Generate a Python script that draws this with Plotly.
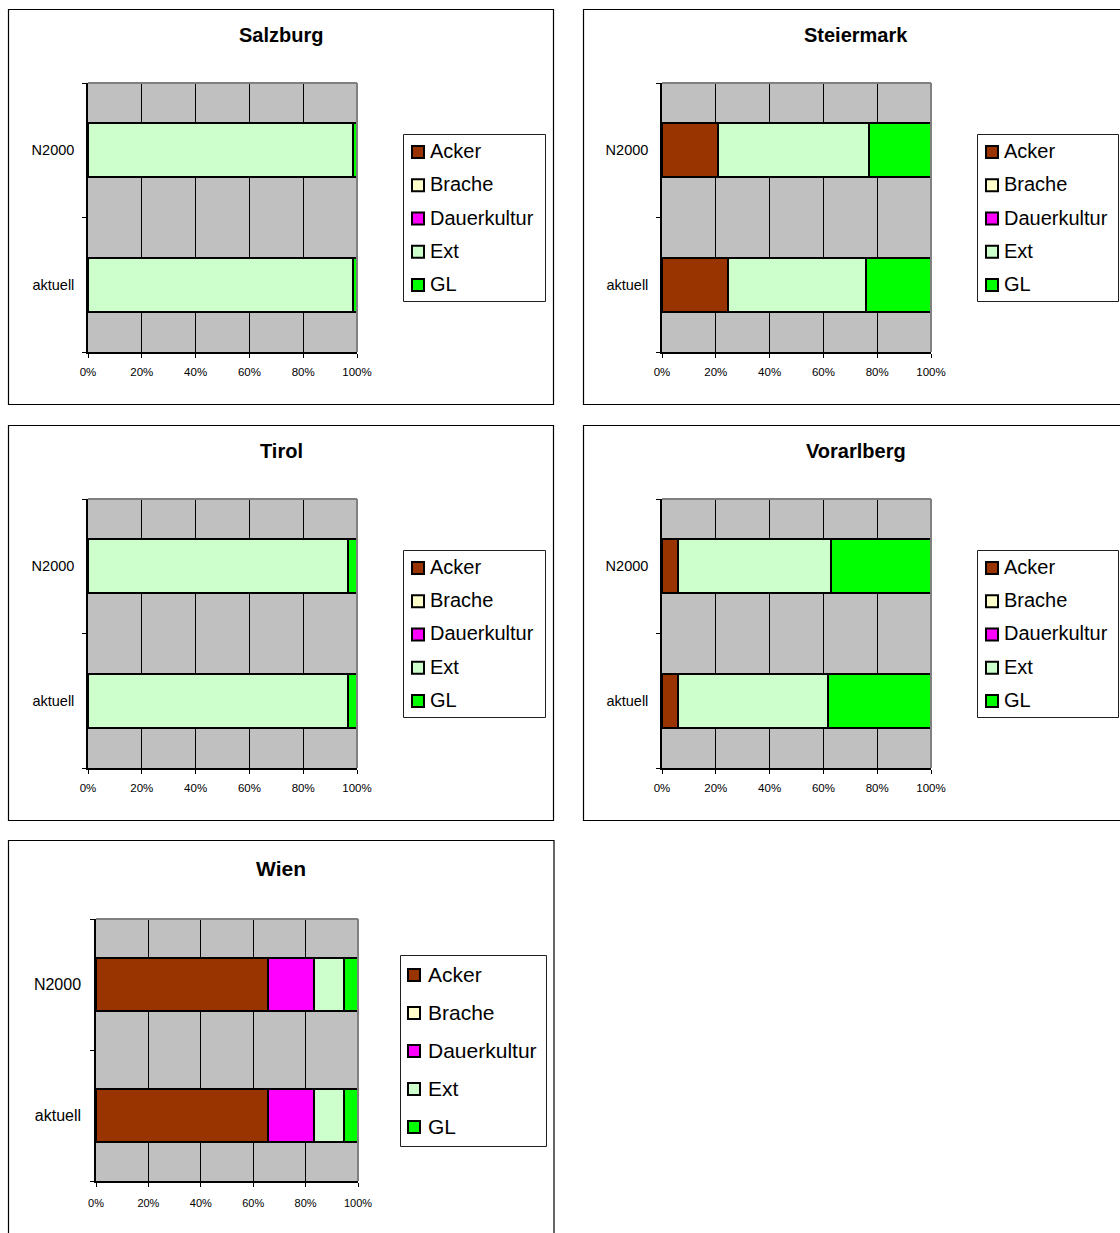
import plotly.graph_objects as go

W, H = 1120, 1233
FONT = "Arial, 'Liberation Sans', sans-serif"

# ---- data -----------------------------------------------------------------
categories = ["aktuell", "N2000"]
land_use = ["Acker", "Brache", "Dauerkultur", "Ext", "GL"]
land_use_colors = ["#993300", "#FFFFCC", "#FF00FF", "#CCFFCC", "#00FF00"]
x_ticks = [0, 20, 40, 60, 80, 100]

regions = ["Salzburg", "Steiermark", "Tirol", "Vorarlberg", "Wien"]

# share of each land-use class in percent (Acker, Brache, Dauerkultur, Ext, GL)
salzburg_aktuell = [0, 0, 0, 98.6, 1.4]
salzburg_n2000 = [0, 0, 0, 98.6, 1.4]
steiermark_aktuell = [24.7, 0, 0, 51.0, 24.3]
steiermark_n2000 = [20.7, 0, 0, 56.4, 22.9]
tirol_aktuell = [0, 0, 0, 96.8, 3.2]
tirol_n2000 = [0, 0, 0, 96.8, 3.2]
vorarlberg_aktuell = [6.1, 0, 0, 55.7, 38.2]
vorarlberg_n2000 = [6.1, 0, 0, 56.6, 37.3]
wien_aktuell = [65.5, 0, 17.7, 11.5, 5.3]
wien_n2000 = [65.5, 0, 17.7, 11.5, 5.3]

shares = {
    "Salzburg": (salzburg_aktuell, salzburg_n2000),
    "Steiermark": (steiermark_aktuell, steiermark_n2000),
    "Tirol": (tirol_aktuell, tirol_n2000),
    "Vorarlberg": (vorarlberg_aktuell, vorarlberg_n2000),
    "Wien": (wien_aktuell, wien_n2000),
}

# ---- panel geometry (pixels) ------------------------------------------------
panels = {
    "Salzburg": dict(frame=(8.5, 9.5, 553.5, 404.5), plot=(88, 83, 357, 352),
                     title=(281, 35, 20), legend=(403.5, 134.5, 545.5, 301.5),
                     leg_y0=151, leg_step=33.25, leg_sw=418, leg_tx=428, leg_font=20,
                     ytick=14.5, xtick=11.5, ystand=9, xstand=4),
    "Steiermark": dict(frame=(583.5, 9.5, 1135, 404.5), plot=(662, 83, 931, 352),
                       title=(856, 35, 20), legend=(977.5, 134.5, 1118.5, 301.5),
                       leg_y0=151, leg_step=33.25, leg_sw=992, leg_tx=1002, leg_font=20,
                       ytick=14.5, xtick=11.5, ystand=9, xstand=4),
    "Tirol": dict(frame=(8.5, 425.5, 553.5, 820.5), plot=(88, 499, 357, 768),
                  title=(281, 451, 20), legend=(403.5, 550.5, 545.5, 717.5),
                  leg_y0=567, leg_step=33.25, leg_sw=418, leg_tx=428, leg_font=20,
                  ytick=14.5, xtick=11.5, ystand=9, xstand=4),
    "Vorarlberg": dict(frame=(583.5, 425.5, 1135, 820.5), plot=(662, 499, 931, 768),
                       title=(856, 451, 20), legend=(977.5, 550.5, 1118.5, 717.5),
                       leg_y0=567, leg_step=33.25, leg_sw=992, leg_tx=1002, leg_font=20,
                       ytick=14.5, xtick=11.5, ystand=9, xstand=4),
    "Wien": dict(frame=(8.5, 840.5, 554, 1250), plot=(96, 919, 358, 1181),
                 title=(281, 868, 21), legend=(400.5, 955.5, 546.5, 1146.5),
                 leg_y0=974, leg_step=38, leg_sw=414, leg_tx=426, leg_font=21,
                 ytick=16, xtick=11, ystand=10, xstand=7),
}


def px(x):
    return x / W


def py(y):
    return 1 - y / H


fig = go.Figure()
shapes = []
annotations = []
layout_axes = {}

for i, region in enumerate(regions):
    p = panels[region]
    ax = "" if i == 0 else str(i + 1)
    aktuell, n2000 = shares[region]

    # stacked horizontal bars, one trace per land-use class
    for k, lu in enumerate(land_use):
        fig.add_trace(go.Bar(
            y=categories,
            x=[aktuell[k], n2000[k]],
            orientation="h",
            name=lu,
            marker=dict(color=land_use_colors[k], line=dict(color="black", width=2)),
            width=0.4,
            xaxis="x" + ax,
            yaxis="y" + ax,
            showlegend=False,
            hovertemplate=region + " %{y}<br>" + lu + ": %{x:.1f}%<extra></extra>",
        ))

    x0, y0, x1, y1 = p["plot"]
    layout_axes["xaxis" + ax] = dict(
        domain=[px(x0), px(x1)], anchor="y" + ax, range=[0, 100],
        tickvals=x_ticks, ticktext=[f"{t}%" for t in x_ticks],
        showgrid=True, gridcolor="black", gridwidth=1, zeroline=False,
        showline=True, linecolor="black", linewidth=1.5,
        ticks="outside", ticklen=4, tickcolor="black", tickwidth=1,
        tickfont=dict(family=FONT, size=p["xtick"], color="black"),
        ticklabelstandoff=p["xstand"],
        automargin=False,
        fixedrange=True,
    )
    layout_axes["yaxis" + ax] = dict(
        domain=[py(y1), py(y0)], anchor="x" + ax, type="category",
        categoryorder="array", categoryarray=categories, range=[-0.5, 1.5],
        showgrid=False, zeroline=False,
        showline=True, linecolor="black", linewidth=1.5,
        ticks="outside", tickson="boundaries", ticklen=4, tickcolor="black",
        tickfont=dict(family=FONT, size=p["ytick"], color="black"),
        ticklabelstandoff=p["ystand"],
        automargin=False,
        fixedrange=True,
    )

    # gray plot-area border on top and right
    shapes.append(dict(type="line", xref=f"x{ax} domain", yref=f"y{ax} domain",
                       x0=0, x1=1, y0=1, y1=1, line=dict(color="#808080", width=2)))
    shapes.append(dict(type="line", xref=f"x{ax} domain", yref=f"y{ax} domain",
                       x0=1, x1=1, y0=0, y1=1, line=dict(color="#808080", width=2)))

    # chart frame
    fx0, fy0, fx1, fy1 = p["frame"]
    shapes.append(dict(type="rect", xref="paper", yref="paper",
                       x0=px(fx0), x1=px(fx1), y0=py(fy1), y1=py(fy0),
                       line=dict(color="black", width=1.2)))

    # title
    tx, ty, ts = p["title"]
    annotations.append(dict(text=f"<b>{region}</b>", xref="paper", yref="paper",
                            x=px(tx), y=py(ty), xanchor="center", yanchor="middle",
                            showarrow=False,
                            font=dict(family=FONT, size=ts, color="black")))

    # legend box
    lx0, ly0, lx1, ly1 = p["legend"]
    shapes.append(dict(type="rect", xref="paper", yref="paper",
                       x0=px(lx0), x1=px(lx1), y0=py(ly1), y1=py(ly0),
                       line=dict(color="#202020", width=1), fillcolor="white"))
    for k, lu in enumerate(land_use):
        cy = p["leg_y0"] + k * p["leg_step"]
        sx = p["leg_sw"]
        shapes.append(dict(type="rect", xref="paper", yref="paper",
                           x0=px(sx - 6), x1=px(sx + 6), y0=py(cy + 7), y1=py(cy - 5),
                           line=dict(color="black", width=2),
                           fillcolor=land_use_colors[k]))
        annotations.append(dict(text=lu, xref="paper", yref="paper",
                                x=px(p["leg_tx"]), y=py(cy), xanchor="left",
                                yanchor="middle", showarrow=False,
                                font=dict(family=FONT, size=p["leg_font"], color="black")))

fig.update_layout(
    width=W, height=H,
    autosize=False,
    margin=dict(l=0, r=0, t=0, b=0, pad=0, autoexpand=False),
    paper_bgcolor="white",
    plot_bgcolor="#C0C0C0",
    barmode="stack",
    showlegend=False,
    shapes=shapes,
    annotations=annotations,
    font=dict(family=FONT, color="black"),
    **layout_axes,
)

fig.write_html(
    "out.html",
    config={"responsive": False, "displayModeBar": False},
    post_script="document.body.style.margin='0';document.body.style.overflow='hidden';",
)
